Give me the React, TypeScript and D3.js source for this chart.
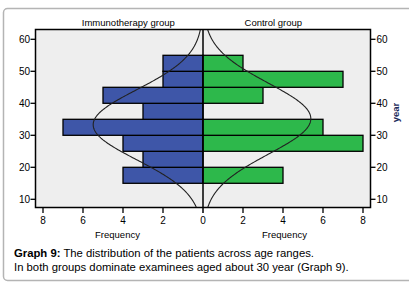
import React from 'react';
import * as d3 from 'd3';

// Age bins (lower edge, width 5 years)
const binStarts = [15, 20, 25, 30, 35, 40, 45, 50];
const binWidth = 5;
const immunoFreq = [4, 3, 4, 7, 3, 5, 2, 2];
const controlFreq = [4, 0, 8, 6, 0, 3, 7, 2];
const yTicks = [10, 20, 30, 40, 50, 60];
const xTicks = [0, 2, 4, 6, 8];
const immunoFit = { mean: 33.3, sd: 10.9, n: 30 };
const controlFit = { mean: 35.2, sd: 11.1, n: 30 };
const panelTitles = ['Immunotherapy group', 'Control group'];
const captionBold = 'Graph 9:';
const captionLine1 = ' The distribution of the patients across age ranges.';
const captionLine2 = 'In both groups dominate examinees aged about 30 year (Graph 9).';

const FONT = 'Arial, "Liberation Sans", sans-serif';

export default function App() {
  const W = 409, H = 285;
  const top = 29.5, bottom = 207.5;
  const left = 35.5, mid = 203, right = 370.5;
  const y = d3.scaleLinear().domain([10, 60]).range([199.3, 39.3]);
  const xL = d3.scaleLinear().domain([0, 8]).range([mid, mid - 160]);
  const xR = d3.scaleLinear().domain([0, 8]).range([mid, mid + 160]);
  const yMin = y.invert(bottom), yMax = y.invert(top);

  const curvePts = (fit: { mean: number; sd: number; n: number }) => {
    const pts: [number, number][] = [];
    const steps = 200;
    for (let i = 0; i <= steps; i++) {
      const a = yMin + (yMax - yMin) * (i / steps);
      const z = (a - fit.mean) / fit.sd;
      const f = (fit.n * binWidth) / (fit.sd * Math.sqrt(2 * Math.PI)) * Math.exp(-0.5 * z * z);
      pts.push([f, a]);
    }
    return pts;
  };
  const lineL = d3.line<[number, number]>().x(d => xL(d[0])).y(d => y(d[1]));
  const lineR = d3.line<[number, number]>().x(d => xR(d[0])).y(d => y(d[1]));

  return (
    <svg width={W} height={H} style={{ position: 'absolute', left: 0, top: 0 }} fontFamily={FONT}>
      <rect x={3.5} y={8.5} width={420} height={272} rx={4} fill="#fff" stroke="#b4b4b4" strokeWidth={1.5} />
      <defs>
        <clipPath id="clipL"><rect x={left} y={top} width={mid - left} height={bottom - top} /></clipPath>
        <clipPath id="clipR"><rect x={mid} y={top} width={right - mid} height={bottom - top} /></clipPath>
      </defs>
      <rect x={left} y={top} width={mid - left} height={bottom - top} fill="#eeeeee" />
      <rect x={mid} y={top} width={right - mid} height={bottom - top} fill="#eeeeee" />
      {binStarts.map((b, i) => immunoFreq[i] > 0 && (
        <rect key={'l' + i} x={xL(immunoFreq[i])} y={y(b + binWidth)} width={mid - xL(immunoFreq[i])}
          height={y(b) - y(b + binWidth)} fill="#3e56a8" stroke="#000" strokeWidth={1.3} />
      ))}
      {binStarts.map((b, i) => controlFreq[i] > 0 && (
        <rect key={'r' + i} x={mid} y={y(b + binWidth)} width={xR(controlFreq[i]) - mid}
          height={y(b) - y(b + binWidth)} fill="#2db84b" stroke="#000" strokeWidth={1.3} />
      ))}
      <path d={lineL(curvePts(immunoFit)) || ''} fill="none" stroke="#222" strokeWidth={1.1} clipPath="url(#clipL)" />
      <path d={lineR(curvePts(controlFit)) || ''} fill="none" stroke="#222" strokeWidth={1.1} clipPath="url(#clipR)" />
      <rect x={left} y={top} width={right - left} height={bottom - top} fill="none" stroke="#000" strokeWidth={1.5} />
      <line x1={mid} x2={mid} y1={top} y2={bottom + 5.5} stroke="#000" strokeWidth={1.5} />

      {/* y axes */}
      {yTicks.map(t => (
        <g key={'yl' + t}>
          <line x1={left - 5} x2={left} y1={y(t)} y2={y(t)} stroke="#000" strokeWidth={1.3} />
          <text x={left - 5.5} y={y(t) + 3.5} textAnchor="end" fontSize={10} fill="#000">{t}</text>
          <line x1={right} x2={right + 5} y1={y(t)} y2={y(t)} stroke="#000" strokeWidth={1.3} />
          <text x={right + 6} y={y(t) + 3.5} textAnchor="start" fontSize={10} fill="#000">{t}</text>
        </g>
      ))}
      <text transform={`translate(${398.5},${112.5}) rotate(-90)`} textAnchor="middle"
        fontSize={9.5} fontWeight="bold" fill="#1a2a5a">year</text>

      {/* x axes */}
      {xTicks.filter(t => t > 0).map(t => (
        <g key={'xl' + t}>
          <line x1={xL(t)} x2={xL(t)} y1={bottom} y2={bottom + 5.5} stroke="#000" strokeWidth={1.3} />
          <text x={xL(t)} y={224} textAnchor="middle" fontSize={10} fill="#000">{t}</text>
          <line x1={xR(t)} x2={xR(t)} y1={bottom} y2={bottom + 5.5} stroke="#000" strokeWidth={1.3} />
          <text x={xR(t)} y={224} textAnchor="middle" fontSize={10} fill="#000">{t}</text>
        </g>
      ))}
      <text x={mid} y={224} textAnchor="middle" fontSize={10} fill="#000">0</text>
      <text x={117.5} y={237.5} textAnchor="middle" fontSize={9.5} fill="#000">Frequency</text>
      <text x={284.5} y={237.5} textAnchor="middle" fontSize={9.5} fill="#000">Frequency</text>

      <text x={128.3} y={25.5} textAnchor="middle" fontSize={9.5} fill="#000">{panelTitles[0]}</text>
      <text x={273.3} y={25.5} textAnchor="middle" fontSize={9.5} fill="#000">{panelTitles[1]}</text>

      <text x={14} y={257} fontSize={11.3} fill="#000">
        <tspan fontWeight="bold">{captionBold}</tspan>{captionLine1}
      </text>
      <text x={14} y={270.5} fontSize={11.3} fill="#000">{captionLine2}</text>
    </svg>
  );
}
